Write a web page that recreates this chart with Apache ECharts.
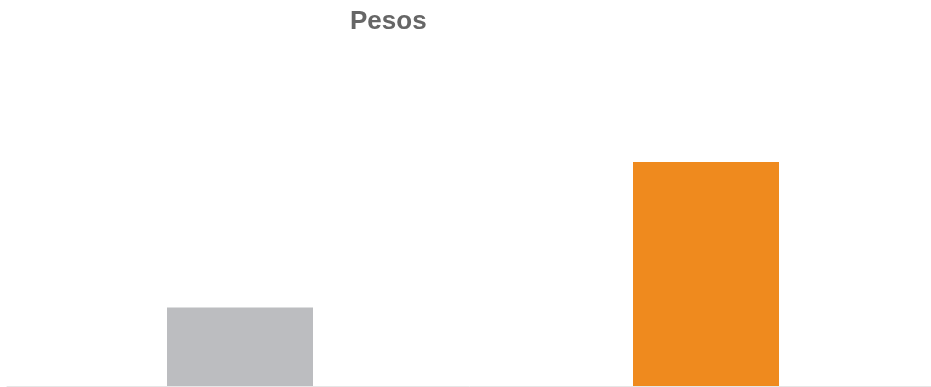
<!DOCTYPE html>
<html>
<head>
<meta charset="utf-8">
<script src="https://cdn.jsdelivr.net/npm/echarts@6/dist/echarts.min.js"></script>
<style>
  html, body { margin: 0; padding: 0; background: #fff; }
  #pesos { width: 931px; height: 387px; }
</style>
</head>
<body>
<div id="pesos"></div>
<script>
  var categories = ['A', 'B'];
  var values = [35, 100];
  var colors = ['#BCBDC0', '#EF8A1E'];

  var chart = echarts.init(document.getElementById('pesos'));
  chart.setOption({
    animation: false,
    title: {
      text: 'Pesos',
      left: 350,
      top: 9,
      padding: 0,
      textStyle: {
        fontFamily: 'Liberation Sans, Arial, sans-serif',
        fontSize: 26,
        fontWeight: 'bold',
        color: '#666666'
      }
    },
    grid: { left: 7, width: 932, top: 50, bottom: 1, outerBoundsMode: 'none' },
    xAxis: {
      type: 'category',
      data: categories,
      axisTick: { show: false },
      axisLabel: { show: false },
      axisLine: { lineStyle: { color: '#e6e6e6', width: 1 } }
    },
    yAxis: {
      type: 'value',
      min: 0,
      max: 150,
      show: false
    },
    series: [{
      type: 'bar',
      barWidth: 146,
      data: values.map(function (v, i) {
        return { value: v, itemStyle: { color: colors[i] } };
      })
    }]
  });
</script>
</body>
</html>
